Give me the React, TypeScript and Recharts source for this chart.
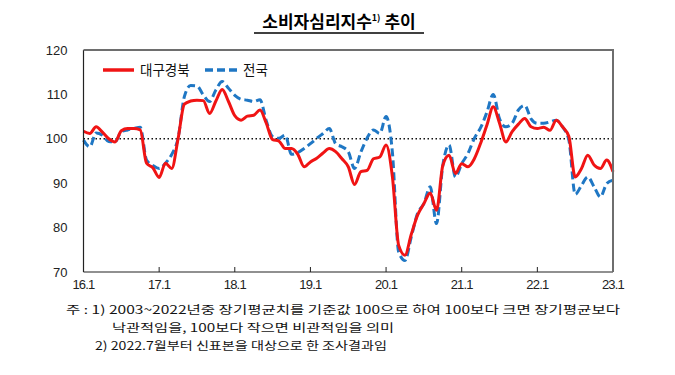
import React from 'react';
import { LineChart, Line, XAxis, YAxis, ReferenceLine } from 'recharts';

const years = ['16', '17', '18', '19', '20', '21', '22'];
const monthLabels: string[] = [];
years.forEach((y) => {
  for (let m = 1; m <= 12; m++) monthLabels.push(`${y}.${m}`);
});
monthLabels.push('23.1');

const tickLabels = ['16.1', '17.1', '18.1', '19.1', '20.1', '21.1', '22.1', '23.1'];
const yTicks = [70, 80, 90, 100, 110, 120];
const seriesNames = ['대구경북', '전국'];

const daeguGyeongbuk = [
  101.7, 101.2, 102.7, 101.5, 100.0, 99.3, 101.8, 102.3, 102.3, 102.0,
  94.5, 93.5, 91.3, 94.5, 93.3, 100.0, 107.8, 108.5, 108.7, 108.6,
  105.7, 108.5, 111.1, 108.4, 105.2, 104.2, 105.1, 105.3, 106.5, 103.5,
  99.8, 99.5, 97.8, 97.8, 96.5, 93.7, 94.8, 95.6, 96.8, 97.8,
  97.1, 95.5, 93.7, 89.7, 92.6, 92.9, 95.5, 95.9, 98.6, 91.5,
  76.0, 73.8, 78.5, 82.8, 85.4, 87.8, 83.9, 94.0, 96.3, 92.2,
  94.4, 93.7, 95.5, 99.0, 103.1, 107.2, 103.5, 99.3, 101.6, 103.3,
  104.6, 102.7, 102.3, 102.6, 101.9, 104.2, 102.7, 100.5, 91.4, 93.3,
  96.3, 94.1, 93.3, 95.2, 92.6,
];

const national = [
  99.7, 98.2, 101.3, 100.8, 99.4, 99.3, 101.6, 102.0, 102.3, 102.6,
  95.2, 94.0, 93.3, 94.5, 96.5, 100.1, 109.5, 112.0, 111.9, 109.9,
  108.4, 111.0, 112.9, 111.4, 109.8, 108.9, 108.7, 108.4, 108.8, 104.0,
  100.5, 100.1, 100.8, 96.5, 96.9, 97.8, 98.9, 100.1, 101.2, 102.3,
  98.9, 98.2, 97.1, 93.3, 97.0, 100.2, 102.0, 101.2, 105.0, 97.0,
  74.5, 72.6, 77.9, 83.2, 85.4, 89.2, 80.9, 94.0, 98.6, 91.4,
  94.4, 96.7, 100.1, 102.5, 106.0, 110.0, 104.5, 102.7, 103.5, 106.5,
  107.5, 104.5, 103.5, 103.5, 103.8, 104.2, 102.7, 99.7, 87.5, 89.5,
  91.4, 89.2, 86.9, 89.9, 90.7,
];

const data = monthLabels.map((month, i) => ({
  month,
  dg: daeguGyeongbuk[i],
  nat: national[i],
}));

const RED = '#F01414';
const BLUE = '#1F77C4';
const KR = '"Noto Sans CJK KR", "Noto Sans", sans-serif';
const AX = '"Liberation Sans", Arial, sans-serif';

const W = 675;
const H = 375;
const M = { top: 50, right: 62, bottom: 73, left: 0 };
const Y_AXIS_W = 83.5;
const X_AXIS_H = 30;
const plotLeft = M.left + Y_AXIS_W;
const plotRight = W - M.right;
const plotTop = M.top;
const plotBottom = H - M.bottom - X_AXIS_H;

export default function App() {
  return (
    <div style={{ position: 'absolute', left: 0, top: 0, width: W, height: H, background: '#fff' }}>
      <div style={{ position: 'absolute', left: 0, top: 0 }}>
        <LineChart width={W} height={H} data={data} margin={M}>
          <XAxis
            dataKey="month"
            ticks={tickLabels}
            interval={0}
            height={X_AXIS_H}
            tickSize={-5}
            tickMargin={13}
            tickLine={{ stroke: '#222' }}
            axisLine={{ stroke: '#222', strokeWidth: 1.2 }}
            tick={{ fontSize: 13, fontFamily: AX, fill: '#222', letterSpacing: -0.8 }}
          />
          <YAxis
            domain={[70, 120]}
            ticks={yTicks}
            width={Y_AXIS_W}
            tickLine={false}
            tickSize={6}
            tickMargin={10}
            axisLine={{ stroke: '#222', strokeWidth: 1.2 }}
            tick={{ fontSize: 13, fontFamily: AX, fill: '#222' }}
          />
          <ReferenceLine y={100} stroke="#111" strokeWidth={1.5} strokeDasharray="1.5 2.5" />
          <Line
            type="monotone"
            dataKey="nat"
            name={seriesNames[1]}
            stroke={BLUE}
            strokeWidth={3}
            strokeDasharray="8 4"
            dot={false}
            isAnimationActive={false}
          />
          <Line
            type="monotone"
            dataKey="dg"
            name={seriesNames[0]}
            stroke={RED}
            strokeWidth={3}
            dot={false}
            isAnimationActive={false}
          />
        </LineChart>
      </div>
      <svg
        width={W}
        height={H}
        style={{ position: 'absolute', left: 0, top: 0, pointerEvents: 'none' }}
      >
        <path
          d={`M ${plotLeft} ${plotTop} L ${plotRight} ${plotTop} L ${plotRight} ${plotBottom}`}
          fill="none"
          stroke="#6e6e6e"
          strokeWidth={2}
        />
        <line x1={103} y1={70} x2={134} y2={70} stroke={RED} strokeWidth={3.5} />
        <text x={140} y={75} fontSize={13.5} fontFamily={KR} fill="#111">{seriesNames[0]}</text>
        <line x1={205} y1={70} x2={237} y2={70} stroke={BLUE} strokeWidth={3.5} strokeDasharray="8 4" />
        <text x={243} y={75} fontSize={13.5} fontFamily={KR} fill="#111">{seriesNames[1]}</text>

        <text x={339} y={28} textAnchor="middle" fontFamily={KR} fontWeight={700} fontSize={17} fill="#000">
          소비자심리지수
          <tspan fontSize={9} dy={-7}>1)</tspan>
          <tspan dy={7}> 추이</tspan>
        </text>
        <line x1={254} y1={33} x2={424} y2={33} stroke="#000" strokeWidth={1.3} />
        <text x={66} y={314} fontFamily={KR} fontSize={11.5} fill="#111" textLength={554} lengthAdjust="spacingAndGlyphs">
          주 : 1) 2003~2022년중 장기평균치를 기준값 100으로 하여 100보다 크면 장기평균보다
        </text>
        <text x={112} y={332} fontFamily={KR} fontSize={11.5} fill="#111" textLength={282} lengthAdjust="spacingAndGlyphs">
          낙관적임을, 100보다 작으면 비관적임을 의미
        </text>
        <text x={95} y={349.5} fontFamily={KR} fontSize={11.5} fill="#111" textLength={292} lengthAdjust="spacingAndGlyphs">
          2) 2022.7월부터 신표본을 대상으로 한 조사결과임
        </text>
      </svg>
    </div>
  );
}
